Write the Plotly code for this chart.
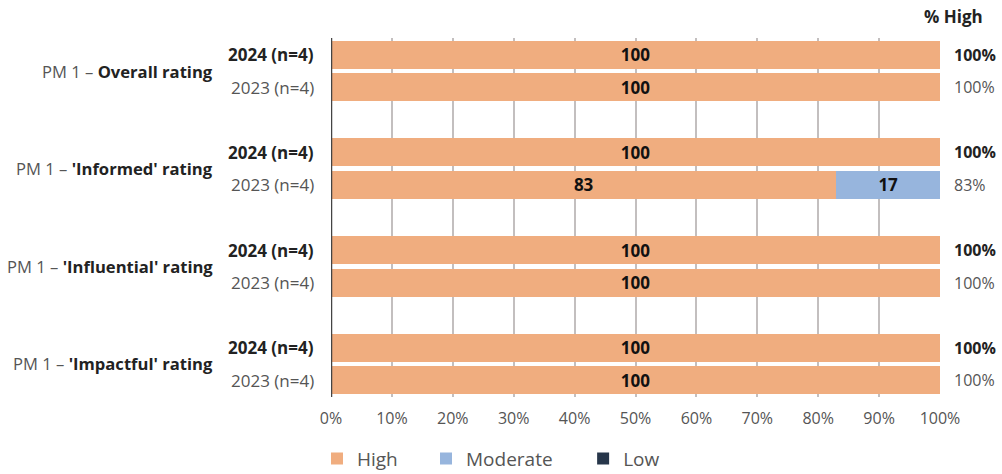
import plotly.graph_objects as go

# Survey rating breakdown (% of respondents)
groups = ["Overall rating", "'Informed' rating", "'Influential' rating", "'Impactful' rating"]
years = ["2024 (n=4)", "2023 (n=4)"]
high = [100, 100, 100, 83, 100, 100, 100, 100]
moderate = [0, 0, 0, 17, 0, 0, 0, 0]
low = [0, 0, 0, 0, 0, 0, 0, 0]
pct_high = [100, 100, 100, 83, 100, 100, 100, 100]
x_ticks = [0, 10, 20, 30, 40, 50, 60, 70, 80, 90, 100]

# row slots: two bars per group with an empty slot between groups
rows = []
for g in range(len(groups)):
    rows += [g * 3, g * 3 + 1]

FONT = "Open Sans"
DARK = "#222222"
GREY = "#555555"
colors = {"High": "#F0AD7F", "Moderate": "#97B5DD", "Low": "#27364A"}

fig = go.Figure()
series = [("High", high), ("Moderate", moderate), ("Low", low)]
legend_ids = ["legend", "legend2", "legend3"]
for (name, vals), lg in zip(series, legend_ids):
    fig.add_trace(go.Bar(
        name=name, y=rows, x=vals, orientation="h", width=0.86,
        marker=dict(color=colors[name], line=dict(width=0)),
        text=[str(v) if v > 0 else "" for v in vals],
        textposition="inside", insidetextanchor="middle", textangle=0,
        constraintext="none",
        textfont=dict(family=FONT, size=17, color="#111111", weight="bold"),
        legend=lg, hoverinfo="skip",
    ))

ann = []
for i, r in enumerate(rows):
    bold = (i % 2 == 0)
    ylab = years[i % 2]
    ann.append(dict(
        xref="paper", yref="y", x=-0.0246, y=r, xanchor="right", yanchor="middle",
        text=f"<b>{ylab}</b>" if bold else ylab, showarrow=False,
        font=dict(family=FONT, size=17, color=DARK if bold else GREY)))
    ptxt = f"{pct_high[i]}%"
    ann.append(dict(
        xref="paper", yref="y", x=1.0197, y=r, xanchor="left", yanchor="middle",
        text=f"<b>{ptxt}</b>" if bold else ptxt, showarrow=False,
        font=dict(family=FONT, size=16, color=DARK if bold else GREY)))

for g, gname in enumerate(groups):
    ann.append(dict(
        xref="paper", yref="y", x=-0.1905, y=g * 3 + 0.5, xanchor="right", yanchor="middle",
        text=f"PM 1 – <b><span style='color:{DARK}'>{gname}</span></b>", showarrow=False,
        font=dict(family=FONT, size=16.6, color=GREY)))

ann.append(dict(
    xref="paper", yref="paper", x=1.0739, y=1.0585, xanchor="right", yanchor="middle",
    text="<b>% High</b>", showarrow=False, font=dict(family=FONT, size=17, color=DARK)))

legend_pos = [-0.023, 0.156, 0.414]
layout_legends = {}
for lg, xp in zip(legend_ids, legend_pos):
    layout_legends[lg] = dict(
        x=xp, y=-0.172, xanchor="left", yanchor="middle", orientation="h",
        font=dict(family=FONT, size=19, color=GREY), bgcolor="rgba(0,0,0,0)",
        itemclick=False, itemdoubleclick=False)

fig.update_layout(
    width=1002, height=474, barmode="stack",
    margin=dict(l=331, r=62, t=38, b=77, autoexpand=False),
    plot_bgcolor="white", paper_bgcolor="white",
    font=dict(family=FONT, color=GREY),
    xaxis=dict(range=[0, 100], tickvals=x_ticks, ticktext=[f"{v}%" for v in x_ticks],
               showgrid=True, gridcolor="#C3BFBF", gridwidth=1.5, zeroline=False,
               tickfont=dict(family=FONT, size=16, color=GREY),
               ticks="outside", ticklen=7, tickcolor="rgba(0,0,0,0)", fixedrange=True),
    yaxis=dict(range=[10.52, -0.52], showticklabels=False, showgrid=False, zeroline=False,
               showline=False, fixedrange=True),
    shapes=[dict(type="line", xref="x", yref="paper", x0=0, x1=0, y0=0, y1=1,
                 line=dict(color="#444444", width=2.5))],
    annotations=ann,
    showlegend=True,
    **layout_legends,
)

fig.write_html("out.html")
